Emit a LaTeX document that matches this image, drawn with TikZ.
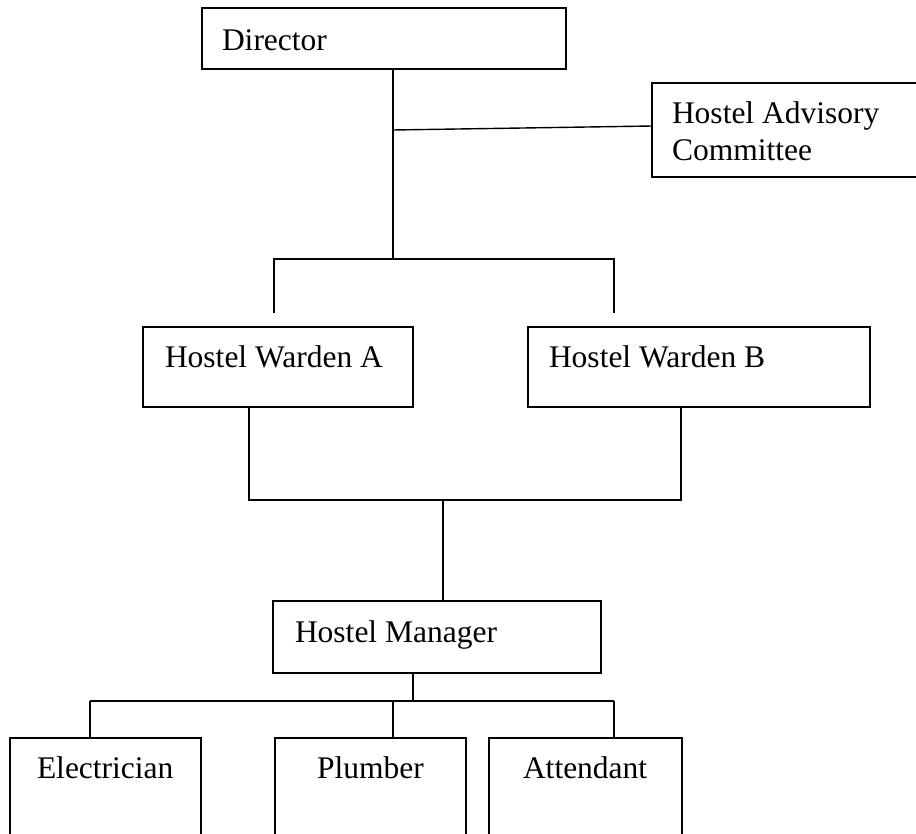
\documentclass[tikz,border=0pt]{standalone}
\usepackage{fontspec}
\setmainfont{Liberation Serif}
\begin{document}
\begin{tikzpicture}[x=1pt,y=-1pt,
  box/.style={draw, line width=1.4pt, rectangle, inner sep=0pt, outer sep=0pt, anchor=north west},
  lbl/.style={anchor=base west, inner sep=0pt, outer sep=0pt, font=\fontsize{31.5}{37}\selectfont},
  conn/.style={line width=1.4pt}]
\useasboundingbox[fill=white] (0,0) rectangle (916,833);
% boxes
\node[box, minimum width=364pt, minimum height=61pt] (dir) at (202,8) {};
\node[box, minimum width=266pt, minimum height=94pt] (hac) at (652,83) {};
\node[box, minimum width=270pt, minimum height=80pt] (wa) at (143,327) {};
\node[box, minimum width=342pt, minimum height=80pt] (wb) at (528,327) {};
\node[box, minimum width=328pt, minimum height=72pt] (mgr) at (273,601) {};
\node[box, minimum width=191pt, minimum height=110pt] (ele) at (10,738) {};
\node[box, minimum width=191pt, minimum height=110pt] (plu) at (275,738) {};
\node[box, minimum width=193pt, minimum height=110pt] (att) at (489,738) {};
% texts
\node[lbl] (tdir) at (222,50) {Director};
\node[lbl, align=left] (thac) at (672,160) {Hostel Advisory\\Committee};
\node[lbl] (twa) at (165,367) {Hostel Warden A};
\node[lbl] (twb) at (549,367) {Hostel Warden B};
\node[lbl] (tmgr) at (295,642) {Hostel Manager};
\node[lbl] (tele) at (37,778) {Electrician};
\node[lbl] (tplu) at (317,778) {Plumber};
\node[lbl] (tatt) at (523,778) {Attendant};
% junction coordinates
\coordinate (jc) at (393,130);
\coordinate (j1) at (393,259);
\coordinate (ja) at (274,259);
\coordinate (jb) at (614,259);
\coordinate (da) at (274,313);
\coordinate (db) at (614,313);
\coordinate (ka) at (249,500);
\coordinate (kb) at (681,500);
\coordinate (km) at (443,500);
\coordinate (m1) at (413,701);
\coordinate (me) at (90,701);
\coordinate (mp) at (393,701);
\coordinate (ma) at (614,701);
% connectors
\draw[conn] (dir.south -| j1) -- (j1);
\draw[conn] (jc) -- ([yshift=4pt]hac.west);
\draw[conn] (da) -- (ja) -- (jb) -- (db);
\draw[conn] (wa.south -| ka) -- (ka) -- (kb) -- (wb.south -| kb);
\draw[conn] (km) -- (mgr.north -| km);
\draw[conn] (mgr.south -| m1) -- (m1);
\draw[conn] (me) -- (ma);
\draw[conn] (me) -- (ele.north -| me);
\draw[conn] (mp) -- (plu.north -| mp);
\draw[conn] (ma) -- (att.north -| ma);
\end{tikzpicture}
\end{document}
